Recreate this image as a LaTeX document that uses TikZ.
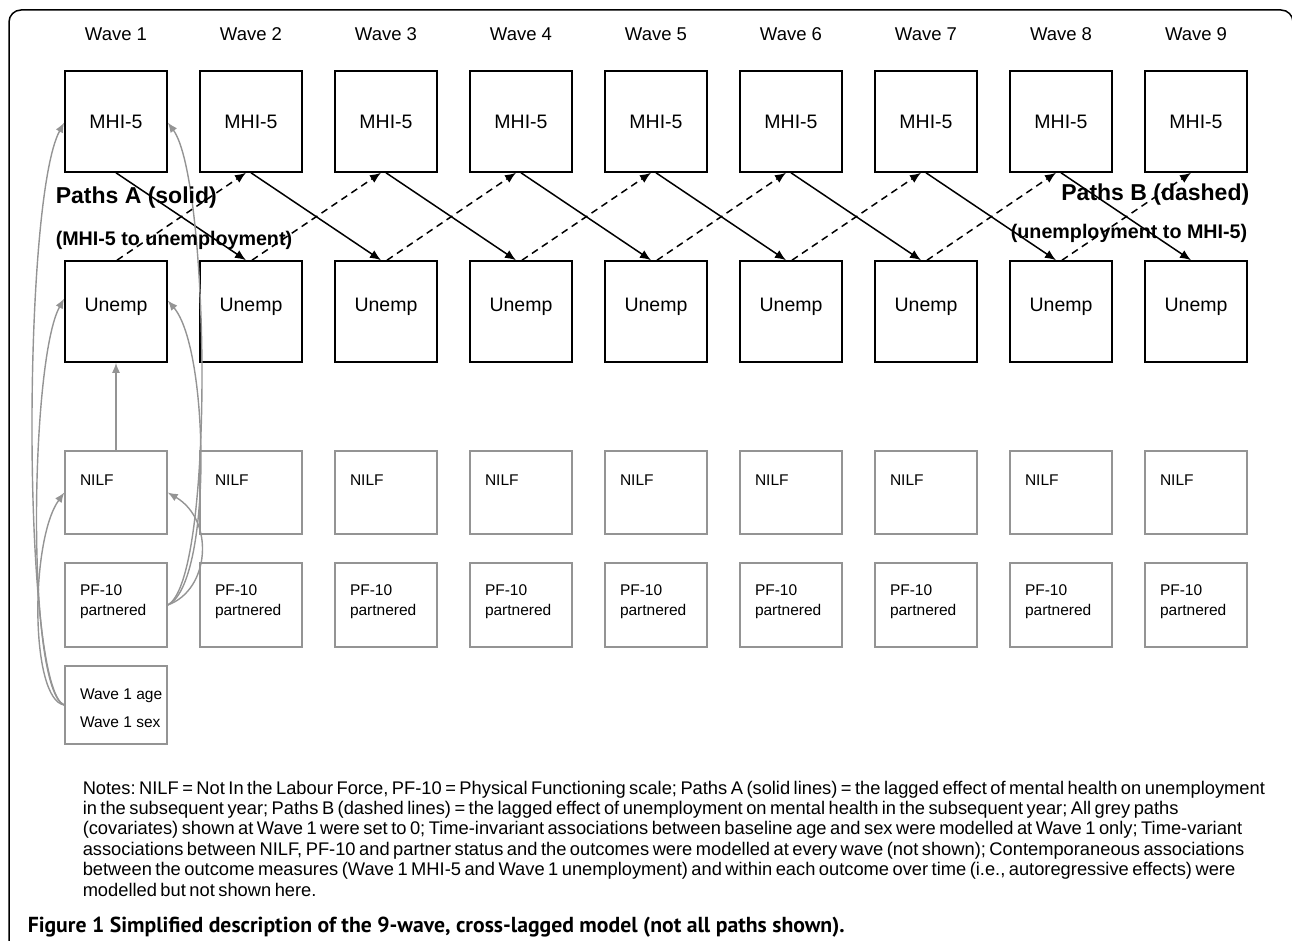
\documentclass[tikz,border=0pt]{standalone}
\usepackage{fontspec}
\setmainfont{Liberation Sans}
\newfontfamily\capfont{PT Sans}
\usetikzlibrary{arrows.meta,positioning,calc}
\colorlet{cgrey}{black!42}
\newcommand{\lbox}[1]{\makebox[72pt][l]{\begin{tabular}[t]{@{}l@{}}#1\end{tabular}}}
\newcommand{\notesfont}{\fontsize{18.3pt}{20.4pt}\selectfont\frenchspacing\spaceskip=3.5pt plus 1pt minus 1pt\relax}

\begin{document}
\begin{tikzpicture}[x=1pt, y=-1pt, >={Latex[length=11pt,width=9pt]}, line width=1.5pt]
\tikzstyle{bigbox}=[draw=black, line width=1.6pt, minimum width=102pt, minimum height=101pt, inner sep=0pt, font=\fontsize{19.5pt}{23pt}\selectfont]
\tikzstyle{smallbox}=[draw=cgrey, line width=1.4pt, minimum width=102pt, inner sep=0pt, font=\fontsize{15.5pt}{20pt}\selectfont]
\tikzstyle{wavelab}=[font=\fontsize{18.5pt}{22pt}\selectfont]
\tikzstyle{pathlab}=[inner sep=0pt, font=\bfseries\fontsize{23pt}{27pt}\selectfont]
\tikzstyle{sublab}=[inner sep=0pt, font=\bfseries\fontsize{19.7pt}{23pt}\selectfont]
\tikzstyle{grey path}=[cgrey, line width=1.4pt, -{Latex[length=10pt,width=8pt]}]

\useasboundingbox (0,0) rectangle (1292,941);
\clip (0,0) rectangle (1292,941);
\draw[line width=1.5pt, rounded corners=12pt] (9,10) rectangle (1293,990);

% waves
\foreach \i in {1,...,9}{
  \node[wavelab] (w\i) at ({116+135*(\i-1)},34.5) {Wave \i};
  \node[bigbox] (m\i) at ({116+135*(\i-1)},121.5) {MHI-5};
  \node[bigbox, text height=14pt, text depth=14pt] (u\i) at ({116+135*(\i-1)},311.5) {Unemp};
  \node[smallbox, minimum height=83pt, text height=14pt, text depth=29pt] (n\i) at ({116+135*(\i-1)},492.5) {\lbox{NILF}};
  \node[smallbox, minimum height=84pt, text height=14pt, text depth=34pt] (p\i) at ({116+135*(\i-1)},605) {\lbox{PF-10\\partnered}};
}
\node[smallbox, minimum height=78pt, text height=14pt, text depth=25pt] (age) at (116,705) {\lbox{Wave 1 age\\[8pt]Wave 1 sex}};

% cross-lagged paths
\foreach \i [evaluate=\i as \j using int(\i+1)] in {1,...,8}{
  \draw[->] (m\i.south) -- ([xshift=-5pt]u\j.north);
  \draw[->, dash pattern=on 7pt off 5pt] ([xshift=1pt]u\i.north) -- ([xshift=-5pt]m\j.south);
}

% covariates at wave 1
\draw[grey path] (n1) -- (u1);
\draw[grey path] (age.west) .. controls (22,690) and (22,200) .. ([yshift=-1pt]m1.west);
\draw[grey path] (age.west) .. controls (26,690) and (30,360) .. ([yshift=13pt]u1.west);
\draw[grey path] (age.west) .. controls (30,700) and (30,540) .. (n1.west);
\draw[grey path] (p1.east) .. controls (215,580) and (210,180) .. ([yshift=-1pt]m1.east);
\draw[grey path] (p1.east) .. controls (212,585) and (210,350) .. ([yshift=11pt]u1.east);
\draw[grey path] (p1.east) .. controls (210,590) and (215,520) .. (n1.east);

\node[pathlab, anchor=base west] (pa) at (55,204) {Paths A (solid)};
\node[sublab, anchor=base west] (pas) at (55,246) {(MHI-5 to unemployment)};
\node[pathlab, anchor=base east] (pb) at (1250,201) {Paths B (dashed)};
\node[sublab, anchor=base east] (pbs) at (1248,239) {(unemployment to MHI-5)};

\node[anchor=north west, inner sep=0pt, align=left, font=\notesfont] (notes) at (82,780) {Notes: NILF = Not In the Labour Force, PF-10 = Physical Functioning scale; Paths A (solid lines) = the lagged effect of mental health on unemployment\\
in the subsequent year; Paths B (dashed lines) = the lagged effect of unemployment on mental health in the subsequent year; All grey paths\\
(covariates) shown at Wave 1 were set to 0; Time-invariant associations between baseline age and sex were modelled at Wave 1 only; Time-variant\\
associations between NILF, PF-10 and partner status and the outcomes were modelled at every wave (not shown); Contemporaneous associations\\
between the outcome measures (Wave 1 MHI-5 and Wave 1 unemployment) and within each outcome over time (i.e., autoregressive effects) were\\
modelled but not shown here.};
\node[anchor=base west, inner sep=0pt, font=\capfont\bfseries\fontsize{21.7pt}{25pt}\selectfont] (cap) at (27,932) {Figure 1 Simplified description of the 9-wave, cross-lagged model (not all paths shown).};
\end{tikzpicture}
\end{document}
